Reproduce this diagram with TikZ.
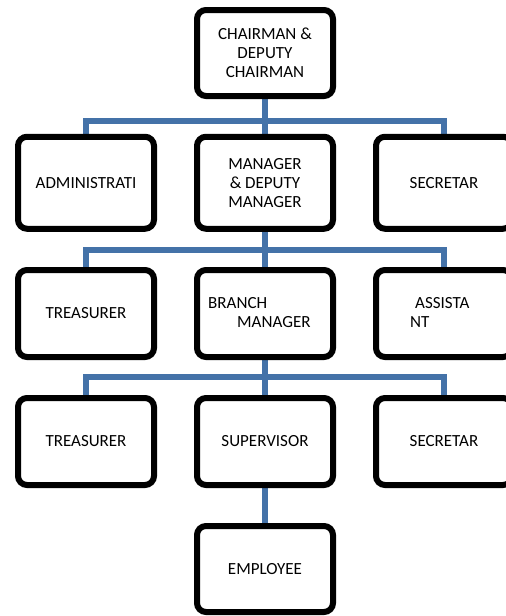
\documentclass[tikz,border=0pt]{standalone}
\usepackage{fontspec}
\setmainfont{Carlito}
\definecolor{connblue}{RGB}{68,114,168}
\pgfdeclarelayer{bg}
\pgfdeclarelayer{lines}
\pgfsetlayers{bg,lines,main}
\begin{document}
\begin{tikzpicture}[x=1pt,y=-1pt,
  box/.style={draw=black, line width=6pt, rounded corners=9pt, fill=white,
    minimum width=136pt, inner sep=0pt, align=center,
    font=\fontsize{17}{19}\selectfont},
  txt/.style={inner sep=0pt, anchor=base west, font=\fontsize{17}{19}\selectfont},
  conn/.style={draw=connblue, line width=6pt}]
\useasboundingbox (0,0) rectangle (506,616);
\clip (0,0) rectangle (506,616);
\begin{pgfonlayer}{bg}
\fill[white] (0,0) rectangle (506,616);
\end{pgfonlayer}

% level 0
\node[box, minimum height=86pt] (chair) at (265,53) {CHAIRMAN \&\\DEPUTY\\CHAIRMAN};
% level 1
\node[box, minimum height=92pt] (admin) at (86,182.75) {ADMINISTRATI};
\node[box, minimum height=92pt] (mgr) at (265,182.75) {MANAGER\\\& DEPUTY\\MANAGER};
\node[box, minimum height=92pt] (sec1) at (444,182.75) {SECRETAR};
% level 2
\node[box, minimum height=87pt] (treas1) at (86,313.5) {TREASURER};
\node[box, minimum height=87pt] (branch) at (265,313.5) {};
\node[box, minimum height=87pt] (assist) at (444,313.5) {};
\node[txt] (branchA) at (208,308) {BRANCH};
\node[txt] (branchB) at (237,327) {MANAGER};
\node[txt] (assistA) at (415,308) {ASSISTA};
\node[txt] (assistB) at (410,327) {NT};
% level 3
\node[box, minimum height=87pt] (treas2) at (86,441.5) {TREASURER};
\node[box, minimum height=87pt] (sup) at (265,441.5) {SUPERVISOR};
\node[box, minimum height=87pt] (sec2) at (444,441.5) {SECRETAR};
% level 4
\node[box, minimum height=86pt] (emp) at (265,569) {EMPLOYEE};

\coordinate (j1) at (265,121);
\coordinate (j2) at (265,250);
\coordinate (j3) at (265,376.5);

\begin{pgfonlayer}{lines}
\draw[conn] (chair.south) -- (j1);
\draw[conn] (admin.north) |- (j1) -| (sec1.north);
\draw[conn] (j1) -- (mgr.north);
\draw[conn] (mgr.south) -- (j2);
\draw[conn] (treas1.north) |- (j2) -| (assist.north);
\draw[conn] (j2) -- (branch.north);
\draw[conn] (branch.south) -- (j3);
\draw[conn] (treas2.north) |- (j3) -| (sec2.north);
\draw[conn] (j3) -- (sup.north);
\draw[conn] (sup.south) -- (emp.north);
\end{pgfonlayer}
\end{tikzpicture}
\end{document}
